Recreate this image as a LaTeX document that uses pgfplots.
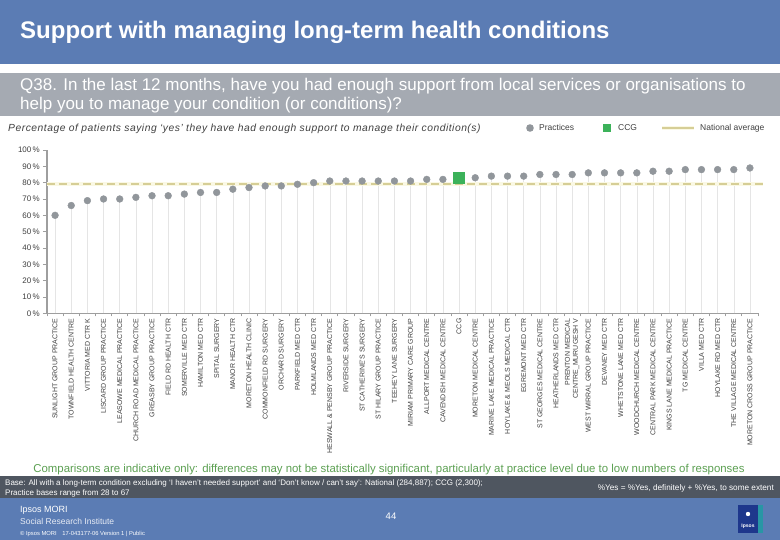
\documentclass[border=0pt]{standalone}
\usepackage{fontspec}
\setmainfont{Liberation Sans}
\newfontfamily\spaced[LetterSpace=5,Ligatures=TeX]{Liberation Sans}
\usepackage{pgfplots}
\usepackage{pgfplotstable}
\pgfplotsset{compat=1.18}

\definecolor{bandblue}{RGB}{91,124,180}
\definecolor{bandgrey}{RGB}{165,170,178}
\definecolor{banddark}{RGB}{79,86,96}
\definecolor{dotgrey}{RGB}{145,150,155}
\definecolor{ccggreen}{RGB}{60,178,90}
\definecolor{natline}{RGB}{214,206,150}
\definecolor{natglow}{RGB}{250,248,228}
\definecolor{notegreen}{RGB}{92,160,82}
\definecolor{txtgrey}{RGB}{64,64,64}
\definecolor{logoteal}{RGB}{40,150,165}
\definecolor{logonavy}{RGB}{30,55,140}

\newcommand{\fs}[1]{\fontsize{#1}{\dimexpr #1pt*115/100\relax}\selectfont}

% practices (x = position, y = % yes)
\pgfplotstableread{
x y
0 60
1 66
2 69
3 70
4 70
5 71
6 72
7 72
8 73
9 74
10 74
11 76
12 77
13 78
14 78
15 79
16 80
17 81
18 81
19 81
20 81
21 81
22 81
23 82
24 82
26 83
27 84
28 84
29 84
30 85
31 85
32 85
33 86
34 86
35 86
36 86
37 87
38 87
39 88
40 88
41 88
42 88
43 89
}\practices

\begin{document}
\begin{tikzpicture}[x=1pt,y=1pt]
% background and banners
\fill[white] (0,0) rectangle (780,-540);
\fill[bandblue] (0,0) rectangle (780,-64);
\node[anchor=base west,text=white,font=\fs{24}\bfseries,inner sep=0pt] at (20,-39) {Support with managing long-term health conditions};
\fill[bandgrey] (0,-73) rectangle (780,-116);
\node[anchor=base west,text=white,font=\fs{17},inner sep=0pt] at (20,-91) {Q38. In the last 12 months, have you had enough support from local services or organisations to};
\node[anchor=base west,text=white,font=\fs{17},inner sep=0pt] at (20,-110) {help you to manage your condition (or conditions)?};
\node[anchor=base west,text=txtgrey,font=\spaced\fs{10.3}\itshape,inner sep=0pt] at (8,-132) {Percentage of patients saying ‘yes’ they have had enough support to manage their condition(s)};

% legend
\fill[dotgrey] (530,-128) circle (3.8);
\node[anchor=base west,text=txtgrey,font=\fs{8.5},inner sep=0pt] at (539,-131) {Practices};
\fill[ccggreen] (603,-124) rectangle (611,-132);
\node[anchor=base west,text=txtgrey,font=\fs{8.5},inner sep=0pt] at (618,-131) {CCG};
\draw[natglow,line width=4pt] (662,-128) -- (694,-128);
\draw[natline,line width=1.6pt] (662,-128) -- (694,-128);
\node[anchor=base west,text=txtgrey,font=\fs{8.5},inner sep=0pt] at (700,-131) {National average};

\begin{axis}[
    at={(47pt,-313.3pt)}, anchor=south west,
    scale only axis,
    width=711pt, height=163.3pt,
    xmin=-0.5, xmax=43.5,
    ymin=0, ymax=100,
    clip=false,
    axis lines*=left,
    axis line style={-,draw=black!38,line width=1.6pt},
    tick align=outside,
    ytick={0,10,...,100},
    yticklabel={\pgfmathprintnumber{\tick}\,\%},
    /pgf/number format/assume math mode=true,
    yticklabel style={font=\fs{8},text=txtgrey,inner sep=1pt,xshift=-2pt},
    major tick length=4pt,
    every tick/.style={draw=black!38,line width=0.8pt},
    xtick={0,...,43},
    major x tick style={draw=none},
    minor xtick={-0.5,0.5,...,43.5},
    minor tick length=3pt,
    xticklabel style={rotate=90,anchor=east,font=\fs{7},text=txtgrey,align=right,inner sep=1pt},
    xticklabels={
      SUNLIGHT GROUP PRACTICE,
      TOWNFIELD HEALTH CENTRE,
      VITTORIA MED CTR K,
      LISCARD GROUP PRACTICE,
      LEASOWE MEDICAL PRACTICE,
      CHURCH ROAD MEDICAL PRACTICE,
      GREASBY GROUP PRACTICE,
      FIELD RD HEALTH CTR,
      SOMERVILLE MED CTR,
      HAMILTON MED CTR,
      SPITAL SURGERY,
      MANOR HEALTH CTR,
      MORETON HEALTH CLINIC,
      COMMONFIELD RD SURGERY,
      ORCHARD SURGERY,
      PARKFIELD MED CTR,
      HOLMLANDS MED CTR,
      HESWALL \& PENSBY GROUP PRACTICE,
      RIVERSIDE SURGERY,
      ST CATHERINE'S SURGERY,
      ST HILARY GROUP PRACTICE,
      TEEHEY LANE SURGERY,
      MIRIAM PRIMARY CARE GROUP,
      ALLPORT MEDICAL CENTRE,
      CAVENDISH MEDICAL CENTRE,
      CCG,
      MORETON MEDICAL CENTRE,
      MARINE LAKE MEDICAL PRACTICE,
      HOYLAKE \& MEOLS MEDICAL CTR,
      EGREMONT MED CTR,
      ST GEORGES MEDICAL CENTRE,
      HEATHERLANDS MED CTR,
      {PRENTON MEDICAL\\CENTRE\_MURUGESH V},
      WEST WIRRAL GROUP PRACTICE,
      DEVANEY MED CTR,
      WHETSTONE LANE MED CTR,
      WOODCHURCH MEDICAL CENTRE,
      CENTRAL PARK MEDICAL CENTRE,
      KINGS LANE MEDICAL PRACTICE,
      TG MEDICAL CENTRE,
      VILLA MED CTR,
      HOYLAKE RD MED CTR,
      THE VILLAGE MEDICAL CENTRE,
      MORETON CROSS GROUP PRACTICE},
]
% drop lines
\addplot[ycomb,no markers,draw=black!10,line width=0.5pt] table[x=x,y=y] {\practices};
\addplot[ycomb,no markers,draw=black!10,line width=0.5pt] coordinates {(25,83)};
% national average
\addplot[no markers,draw=natglow,line width=4pt] coordinates {(-0.5,79) (43.8,79)};
\addplot[no markers,draw=natline,line width=1.6pt,dash pattern=on 8pt off 4pt] coordinates {(-0.5,79) (43.8,79)};
% practices and CCG
\addplot[only marks,mark=*,mark size=3.4pt,mark options={fill=dotgrey,draw=dotgrey}] table[x=x,y=y] {\practices};
\addplot[only marks,mark=square*,mark size=5.5pt,mark options={fill=ccggreen,draw=ccggreen}] coordinates {(25,83.3)};
\end{axis}

% footer
\node[text=notegreen,font=\fs{11.4},inner sep=0pt] at (389,-470) {Comparisons are indicative only: differences may not be statistically significant, particularly at practice level due to low numbers of responses};
\fill[banddark] (0,-476) rectangle (780,-498);
\node[anchor=base west,text=white,font=\fs{8},inner sep=0pt] at (5,-485) {Base: All with a long-term condition excluding ‘I haven’t needed support’ and ‘Don’t know / can’t say’: National (284,887); CCG (2,300);};
\node[anchor=base west,text=white,font=\fs{8},inner sep=0pt] at (5,-495.5) {Practice bases range from 28 to 67};
\node[anchor=base east,text=white,font=\fs{8.2},inner sep=0pt] at (774,-490) {\%Yes = \%Yes, definitely + \%Yes, to some extent};
\fill[bandblue] (0,-498) rectangle (780,-540);
\node[anchor=base west,text=white,font=\fs{9},inner sep=0pt] at (20,-512) {Ipsos MORI};
\node[anchor=base west,text=white!85!bandblue,font=\fs{8.5},inner sep=0pt] at (20,-524) {Social Research Institute};
\node[anchor=base west,text=white,font=\fs{5.8},inner sep=0pt] at (20,-535) {\textcopyright\ Ipsos MORI\quad 17-043177-06 Version 1 | Public};
\node[text=white,font=\fs{9.5},inner sep=0pt] at (391,-516) {44};
\fill[logoteal] (738,-505) rectangle (763,-533);
\fill[logonavy] (738,-505) rectangle (758,-533);
\node[text=white,font=\fs{5}\bfseries,inner sep=0pt] at (748,-526) {Ipsos};
\fill[white] (748,-514) circle (2.2);

\pgfresetboundingbox
\useasboundingbox (0,0) rectangle (780,-540);
\end{tikzpicture}
\end{document}
